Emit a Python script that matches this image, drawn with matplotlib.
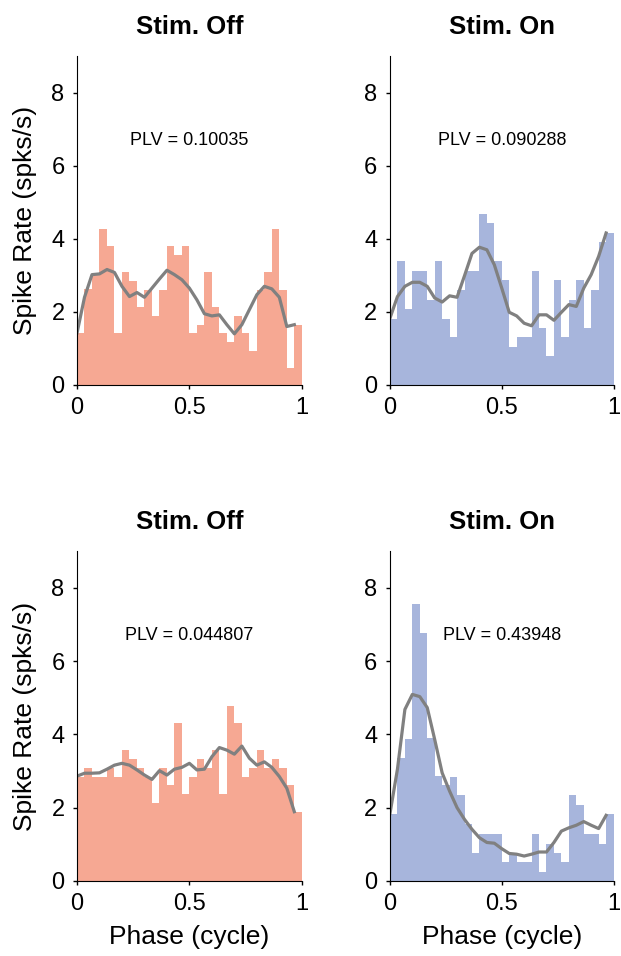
import numpy as np
import matplotlib
matplotlib.use('Agg')
import matplotlib.pyplot as plt

plt.rcParams['font.family'] = ['Liberation Sans', 'DejaVu Sans']

# 30 phase bins, left edges
n_bins = 30
bin_edges = np.arange(n_bins) / n_bins

# bar heights (spikes/s) per phase bin
off_top = [1.42, 2.63, 3.02, 4.27, 3.80, 1.42, 3.08, 2.85, 2.13, 2.60,
           1.88, 2.60, 3.80, 3.56, 3.80, 1.42, 1.65, 3.08, 2.13, 1.42,
           1.17, 1.88, 1.42, 0.93, 2.60, 3.08, 4.27, 2.60, 0.46, 1.65]
on_top = [1.81, 3.38, 2.08, 3.11, 3.11, 2.33, 3.38, 1.81, 1.30, 2.60,
          3.11, 3.11, 4.69, 4.44, 3.38, 2.86, 1.03, 1.30, 1.30, 3.11,
          1.56, 0.78, 2.86, 1.30, 2.33, 2.86, 1.56, 2.60, 3.90, 4.16]
off_bot = [2.85, 3.07, 2.85, 2.85, 3.07, 2.85, 3.57, 3.33, 3.07, 2.85,
           2.12, 3.07, 2.61, 4.30, 2.37, 2.85, 3.33, 3.07, 3.57, 2.37,
           4.77, 4.30, 2.85, 3.07, 3.57, 3.07, 3.33, 3.07, 2.61, 1.89]
on_bot = [1.82, 3.36, 3.88, 7.55, 6.77, 3.91, 2.86, 2.61, 2.85, 2.34,
          1.55, 0.77, 1.27, 1.27, 1.27, 0.52, 0.77, 0.52, 0.52, 1.27,
          0.25, 1.02, 0.77, 0.52, 2.34, 2.06, 1.27, 1.27, 1.02, 1.82]

# smoothed rate curves
off_top_fit = [1.42, 2.40, 3.02, 3.04, 3.16, 3.08, 2.70, 2.42, 2.53, 2.40,
               2.65, 2.90, 3.14, 3.02, 2.88, 2.65, 2.33, 1.95, 1.89, 1.92,
               1.65, 1.40, 1.65, 2.06, 2.47, 2.70, 2.63, 2.40, 1.60, 1.65]
on_top_fit = [1.83, 2.42, 2.70, 2.81, 2.81, 2.70, 2.38, 2.27, 2.44, 2.40,
              2.99, 3.60, 3.77, 3.70, 3.29, 2.65, 1.99, 1.89, 1.69, 1.62,
              1.92, 1.92, 1.77, 1.99, 2.20, 2.15, 2.65, 3.02, 3.52, 4.16]
off_bot_fit = [2.86, 2.94, 2.94, 2.95, 3.05, 3.16, 3.21, 3.16, 3.03, 2.89,
               2.77, 3.01, 2.89, 3.05, 3.10, 3.21, 3.03, 3.05, 3.39, 3.64,
               3.57, 3.46, 3.68, 3.35, 3.16, 3.25, 3.10, 2.85, 2.53, 1.89]
on_bot_fit = [1.84, 3.05, 4.68, 5.09, 5.03, 4.73, 3.86, 2.95, 2.45, 2.00,
              1.68, 1.41, 1.18, 1.05, 1.03, 0.88, 0.75, 0.73, 0.68, 0.73,
              0.79, 0.79, 1.05, 1.36, 1.45, 1.52, 1.62, 1.52, 1.43, 1.79]

plv = ['0.10035', '0.090288', '0.044807', '0.43948']
titles = ['Stim. Off', 'Stim. On', 'Stim. Off', 'Stim. On']

off_color = '#F6A893'
on_color = '#A7B5DC'

fig = plt.figure(figsize=(6.21, 9.56), dpi=100)
ax_pos = [[0.124, 0.5973, 0.362, 0.344],
          [0.628, 0.5973, 0.360, 0.344],
          [0.124, 0.0785, 0.362, 0.345],
          [0.628, 0.0785, 0.360, 0.345]]

panels = [(off_top, off_top_fit, off_color),
          (on_top, on_top_fit, on_color),
          (off_bot, off_bot_fit, off_color),
          (on_bot, on_bot_fit, on_color)]

for i, (bars, fit, col) in enumerate(panels):
    ax = fig.add_axes(ax_pos[i])
    ax.bar(bin_edges, bars, width=1 / n_bins, align='edge', color=col,
           edgecolor='none', linewidth=0)
    ax.plot(bin_edges, fit, color='#808080', lw=2.3)
    ax.set_xlim(0, 1)
    ax.set_ylim(0, 9)
    ax.set_xticks([0, 0.5, 1])
    ax.set_xticklabels(['0', '0.5', '1'])
    ax.set_yticks([0, 2, 4, 6, 8])
    ax.tick_params(labelsize=17, length=3, width=1, pad=6)
    ax.spines['top'].set_visible(False)
    ax.spines['right'].set_visible(False)
    ax.set_title(titles[i], fontsize=18.5, fontweight='bold', pad=16)
    ax.text(0.5, 6.7, 'PLV = ' + plv[i], ha='center', va='center', fontsize=13)
    if i % 2 == 0:
        ax.set_ylabel('Spike Rate (spks/s)', fontsize=19)
        ax.yaxis.set_label_coords(-0.18, 0.5)
    if i >= 2:
        ax.set_xlabel('Phase (cycle)', fontsize=19)
        ax.xaxis.set_label_coords(0.5, -0.133)

fig.savefig('out.png', dpi=100)
